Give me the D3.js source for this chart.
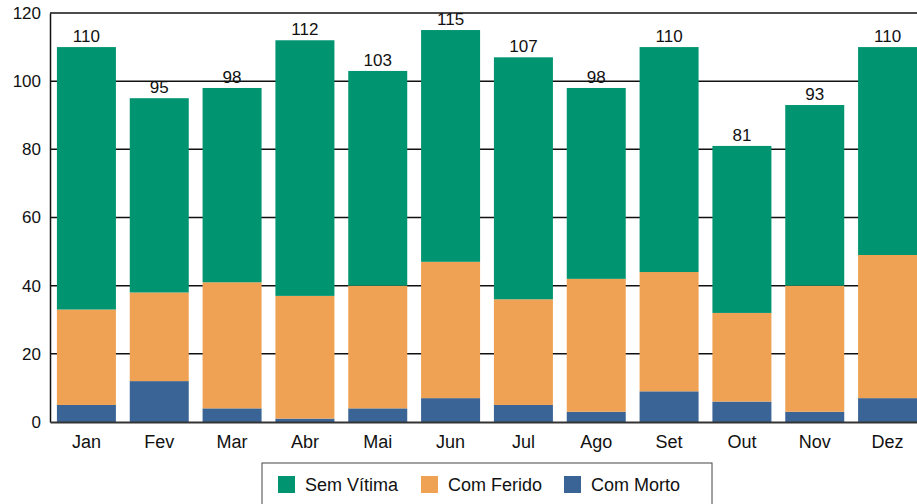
<!DOCTYPE html>
<html>
<head>
<meta charset="utf-8">
<script src="https://cdn.jsdelivr.net/npm/d3@7"></script>
<style>
  body { margin: 0; background: #fff; }
  svg text { font-family: "Liberation Sans", Arial, sans-serif; fill: #111; }
</style>
</head>
<body>
<script>
// Data
var months = ["Jan", "Fev", "Mar", "Abr", "Mai", "Jun", "Jul", "Ago", "Set", "Out", "Nov", "Dez"];
var comMorto = [5, 12, 4, 1, 4, 7, 5, 3, 9, 6, 3, 7];
var comFerido = [28, 26, 37, 36, 36, 40, 31, 39, 35, 26, 37, 42];
var semVitima = [77, 57, 57, 75, 63, 68, 71, 56, 66, 49, 53, 61];
var yTicks = [0, 20, 40, 60, 80, 100, 120];

var seriesNames = ["Com Morto", "Com Ferido", "Sem Vítima"];
var colors = { "Sem Vítima": "#009470", "Com Ferido": "#efa253", "Com Morto": "#3a6496" };

var svgWidth = 917, svgHeight = 504;
var margin = { top: 13, left: 50, bottom: 82 };

var svg = d3.select("body").append("svg")
  .attr("width", svgWidth)
  .attr("height", svgHeight);

// Build the rows for the stack
var rows = months.map(function(m, i) {
  return { month: m, "Com Morto": comMorto[i], "Com Ferido": comFerido[i], "Sem Vítima": semVitima[i] };
});
var stacked = d3.stack().keys(seriesNames)(rows);

// Plot runs slightly past the right edge, as in the original
var x = d3.scaleBand()
  .domain(months)
  .range([margin.left, 924])
  .paddingInner(0.19)
  .paddingOuter(0.095);

var y = d3.scaleLinear()
  .domain([0, 120])
  .range([svgHeight - margin.bottom, margin.top]);

// Gridlines
svg.append("g")
  .selectAll("line")
  .data(yTicks.filter(d => d > 0))
  .join("line")
  .attr("x1", margin.left)
  .attr("x2", svgWidth)
  .attr("y1", d => y(d))
  .attr("y2", d => y(d))
  .attr("stroke", "#111")
  .attr("stroke-width", 1.5);

// Stacked bars
svg.append("g")
  .selectAll("g")
  .data(stacked)
  .join("g")
  .attr("fill", d => colors[d.key])
  .selectAll("rect")
  .data(d => d)
  .join("rect")
  .attr("x", d => x(d.data.month))
  .attr("width", x.bandwidth())
  .attr("y", d => y(d[1]))
  .attr("height", d => y(d[0]) - y(d[1]));

// Totals above bars
svg.append("g")
  .selectAll("text")
  .data(rows)
  .join("text")
  .attr("x", d => x(d.month) + x.bandwidth() / 2)
  .attr("y", d => y(d["Com Morto"] + d["Com Ferido"] + d["Sem Vítima"]) - 5)
  .attr("text-anchor", "middle")
  .attr("font-size", 17)
  .text(d => d["Com Morto"] + d["Com Ferido"] + d["Sem Vítima"]);

// Left axis
var leftAxis = d3.axisLeft(y).tickValues(yTicks).tickSize(0).tickPadding(9);
var gy = svg.append("g")
  .attr("transform", "translate(" + margin.left + ",0)")
  .call(leftAxis);
gy.select(".domain").attr("stroke", "#111").attr("stroke-width", 1.5);
gy.selectAll("text").attr("font-size", 17).attr("fill", "#111")
  .style("font-family", "'Liberation Sans', Arial, sans-serif");

// Bottom axis
var bottomAxis = d3.axisBottom(x).tickSize(0).tickPadding(13);
var gx = svg.append("g")
  .attr("transform", "translate(0," + y(0) + ")")
  .call(bottomAxis);
gx.select(".domain").attr("stroke", "#333").attr("stroke-width", 2);
gx.selectAll("text").attr("font-size", 18).attr("fill", "#111")
  .style("font-family", "'Liberation Sans', Arial, sans-serif");

// Legend
var legend = svg.append("g");
legend.append("rect")
  .attr("x", 262).attr("y", 463)
  .attr("width", 450).attr("height", 50)
  .attr("fill", "#fff")
  .attr("stroke", "#444")
  .attr("stroke-width", 1);

var legendItems = [
  { name: "Sem Vítima", x: 278 },
  { name: "Com Ferido", x: 421 },
  { name: "Com Morto", x: 564 }
];
var li = legend.selectAll("g.item")
  .data(legendItems)
  .join("g")
  .attr("class", "item")
  .attr("transform", d => "translate(" + d.x + ",476)");
li.append("rect")
  .attr("width", 17).attr("height", 17)
  .attr("fill", d => colors[d.name]);
li.append("text")
  .attr("x", 27).attr("y", 15)
  .attr("font-size", 18)
  .text(d => d.name);
</script>
</body>
</html>
